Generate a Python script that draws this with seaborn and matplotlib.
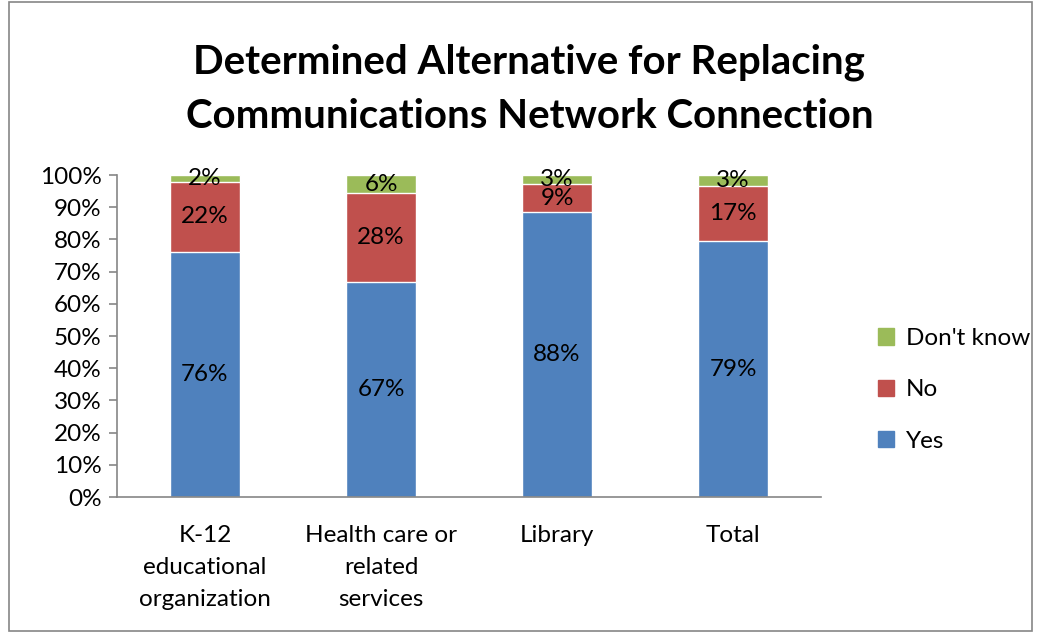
import numpy as np
import pandas as pd
import seaborn as sns
import matplotlib.pyplot as plt
from matplotlib.patches import Patch, Rectangle

sns.set_theme(style="white", rc={"text.color": "black", "xtick.color": "black", "ytick.color": "black"})
plt.rcParams['font.family'] = ['Lato', 'DejaVu Sans']

categories = ["K-12\neducational\norganization", "Health care or\nrelated\nservices", "Library", "Total"]
yes = [76.2, 66.7, 88.4, 79.4]
no = [21.6, 27.7, 8.7, 17.3]
dont_know = [2.2, 5.6, 2.9, 3.3]

colors = {"Yes": "#4F81BD", "No": "#C0504D", "Don't know": "#9BBB59"}
size = 17.5

df = pd.DataFrame({"cat": categories, "Yes": yes, "No": no, "Don't know": dont_know})
df["c1"] = df["Yes"]
df["c2"] = df["Yes"] + df["No"]
df["c3"] = df["c2"] + df["Don't know"]

fig = plt.figure(figsize=(10.38, 6.33), dpi=100)
ax = fig.add_axes([0.1127, 0.2148, 0.6783, 0.5087])

sns.barplot(data=df, x="cat", y="c3", color=colors["Don't know"], width=0.4, saturation=1, ax=ax)
sns.barplot(data=df, x="cat", y="c2", color=colors["No"], width=0.4, saturation=1, ax=ax)
sns.barplot(data=df, x="cat", y="c1", color=colors["Yes"], width=0.4, saturation=1, ax=ax)

for i in range(len(df)):
    lows = [0, df["c1"][i], df["c2"][i]]
    vals = [df["Yes"][i], df["No"][i], df["Don't know"][i]]
    for lo, v in zip(lows, vals):
        ax.text(i, lo + v / 2, f"{v:.0f}%", ha="center", va="center", fontsize=size, color="black")

ax.set_ylim(0, 100)
ax.set_xlim(-0.5, 3.5)
ax.set_yticks(np.arange(0, 101, 10))
ax.set_yticklabels([f"{t}%" for t in range(0, 101, 10)])
ax.set_xticks(range(4))
ax.set_xticklabels(categories, linespacing=1.65)
ax.set_xticks(np.arange(-0.5, 3.6, 1), minor=True)
ax.tick_params(axis="x", which="major", length=0, labelsize=size, pad=20)
ax.tick_params(axis="x", which="minor", length=7, color="#868686", width=1.2, direction="out")
ax.tick_params(axis="y", length=6, color="#868686", width=1.2, labelsize=size, direction="out", left=True, pad=5)
ax.set_xlabel("")
ax.set_ylabel("")
for s in ["top", "right"]:
    ax.spines[s].set_visible(False)
for s in ["left", "bottom"]:
    ax.spines[s].set_color("#868686")
    ax.spines[s].set_linewidth(1.2)

fig.text(0.51, 0.859, "Determined Alternative for Replacing\nCommunications Network Connection",
         ha="center", va="center", fontsize=29, fontweight="bold", linespacing=1.55)

handles = [Patch(color=colors[k]) for k in ["Don't know", "No", "Yes"]]
fig.legend(handles, ["Don't know", "No", "Yes"], loc="center left", bbox_to_anchor=(0.825, 0.384),
           frameon=False, fontsize=size, handlelength=0.65, handleheight=0.65, labelspacing=1.25, handletextpad=0.5)

fig.patches.append(Rectangle((0.009, 0.003), 0.985, 0.994, transform=fig.transFigure,
                             fill=False, edgecolor="#868686", linewidth=1.2))

plt.savefig("out.png", dpi=100)
